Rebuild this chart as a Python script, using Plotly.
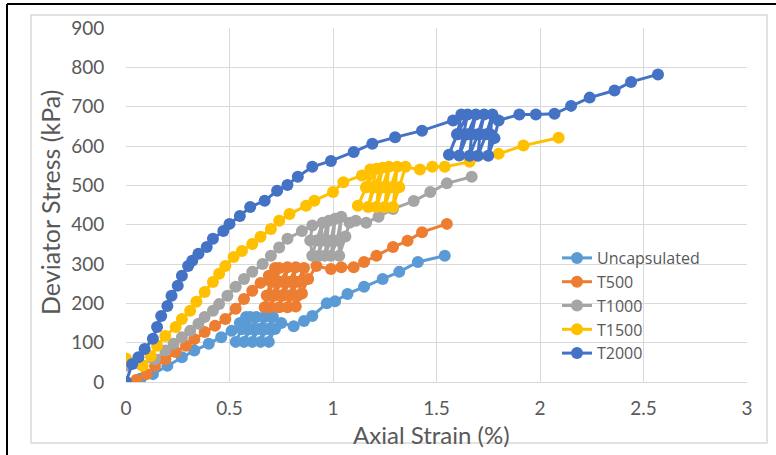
import plotly.graph_objects as go

# ---- data ----
series_names = ["Uncapsulated", "T500", "T1000", "T1500", "T2000"]
series_colors = ["#5B9BD5", "#ED7D31", "#A5A5A5", "#FFC000", "#4472C4"]

unc_x = [0, 0.07, 0.13, 0.20, 0.27, 0.33, 0.40, 0.46, 0.51, 0.55, 0.58, 0.56, 0.53, 0.56, 0.60, 0.59, 0.57,
         0.60, 0.63, 0.62, 0.61, 0.64, 0.67, 0.66, 0.65, 0.68, 0.71, 0.70, 0.69, 0.72, 0.75, 0.81, 0.86,
         0.90, 0.97, 1.01, 1.07, 1.15, 1.24, 1.32, 1.41, 1.54]
unc_y = [0, 8, 20, 41, 63, 80, 97, 114, 130, 150, 165, 135, 102, 135, 165, 135, 102,
         135, 165, 135, 102, 135, 165, 135, 102, 135, 165, 135, 102, 135, 150, 142, 155,
         168, 200, 205, 224, 242, 262, 280, 305, 321]

t500_x = [0, 0.05, 0.10, 0.14, 0.19, 0.24, 0.29, 0.33, 0.38, 0.43, 0.48, 0.53, 0.57, 0.61, 0.65, 0.69,
          0.72, 0.70, 0.68, 0.67, 0.69, 0.71, 0.74, 0.73, 0.71, 0.70, 0.72, 0.75, 0.78, 0.77, 0.75, 0.74,
          0.76, 0.79, 0.82, 0.81, 0.79, 0.78, 0.80, 0.83, 0.86, 0.85, 0.83, 0.82, 0.85, 0.88, 0.92,
          0.99, 1.04, 1.10, 1.15, 1.21, 1.29, 1.36, 1.43, 1.55]
t500_y = [0, 5, 20, 41, 58, 76, 92, 109, 127, 143, 160, 186, 211, 232, 252, 270,
          290, 255, 220, 190, 220, 255, 290, 255, 220, 190, 220, 255, 292, 255, 220, 190,
          220, 255, 292, 255, 220, 190, 220, 255, 290, 255, 220, 192, 225, 262, 295,
          287, 292, 292, 305, 321, 343, 359, 381, 402]

t1000_x = [0, 0.07, 0.14, 0.19, 0.23, 0.27, 0.31, 0.35, 0.38, 0.42, 0.45, 0.49, 0.53, 0.57, 0.61, 0.66,
           0.70, 0.74, 0.78, 0.85, 0.90, 0.89, 0.90, 0.92, 0.95, 0.94, 0.93, 0.95, 0.98, 0.97, 0.96,
           0.99, 1.01, 1.00, 0.99, 1.02, 1.04, 1.03, 1.03, 1.06, 1.08, 1.11, 1.16, 1.22, 1.29, 1.39,
           1.47, 1.55, 1.67]
t1000_y = [41, 45, 58, 80, 97, 114, 130, 148, 165, 181, 198, 219, 242, 262, 280, 300,
           321, 342, 364, 384, 398, 360, 321, 360, 405, 360, 321, 360, 410, 360, 321,
           360, 415, 360, 321, 360, 420, 360, 321, 370, 405, 410, 405, 420, 440, 460,
           483, 505, 522]

t1500_x = [0, 0.08, 0.12, 0.15, 0.19, 0.24, 0.27, 0.31, 0.34, 0.38, 0.42, 0.45, 0.48, 0.52, 0.56, 0.61,
           0.65, 0.70, 0.74, 0.79, 0.87, 0.91, 1.00, 1.05, 1.14, 1.18, 1.16, 1.12, 1.16, 1.21, 1.19,
           1.17, 1.20, 1.24, 1.22, 1.21, 1.24, 1.27, 1.26, 1.25, 1.28, 1.31, 1.30, 1.29, 1.32, 1.35,
           1.42, 1.48, 1.54, 1.66, 1.80, 1.92, 2.09]
t1500_y = [60, 41, 66, 92, 117, 140, 160, 181, 204, 229, 254, 275, 295, 318, 333, 351,
           369, 389, 410, 427, 448, 461, 483, 508, 525, 540, 495, 448, 495, 542, 495,
           445, 495, 545, 495, 445, 495, 547, 495, 445, 495, 547, 495, 445, 495, 547,
           540, 547, 547, 560, 580, 601, 621]

t2000_x = [0, 0.03, 0.06, 0.09, 0.13, 0.15, 0.17, 0.20, 0.22, 0.25, 0.27, 0.30, 0.32, 0.35, 0.39, 0.42,
           0.47, 0.50, 0.55, 0.60, 0.67, 0.73, 0.78, 0.83, 0.90, 0.99, 1.10, 1.19, 1.30, 1.43, 1.58,
           1.62, 1.60, 1.56, 1.60, 1.65, 1.63, 1.61, 1.65, 1.69, 1.67, 1.66, 1.70, 1.73, 1.71, 1.70,
           1.74, 1.77, 1.76, 1.75, 1.78, 1.80, 1.90, 1.98, 2.07, 2.15, 2.24, 2.36, 2.44, 2.57]
t2000_y = [0, 46, 63, 84, 110, 140, 168, 193, 219, 245, 270, 295, 308, 326, 343, 364,
           384, 402, 422, 445, 461, 486, 501, 522, 547, 562, 585, 606, 622, 639, 665,
           680, 630, 578, 630, 680, 630, 576, 630, 680, 630, 575, 630, 680, 630, 575,
           630, 680, 630, 575, 620, 665, 680, 680, 682, 702, 723, 741, 763, 782]

xs = [unc_x, t500_x, t1000_x, t1500_x, t2000_x]
ys = [unc_y, t500_y, t1000_y, t1500_y, t2000_y]

x_ticks = [0, 0.5, 1, 1.5, 2, 2.5, 3]
x_tick_labels = ["0", "0.5", "1", "1.5", "2", "2.5", "3"]
y_ticks = [0, 100, 200, 300, 400, 500, 600, 700, 800, 900]
x_title = "Axial Strain (%)"
y_title = "Deviator Stress (kPa)"

# ---- layout geometry (pixels) ----
W, H = 776, 455
L, R, T, B = 126, 747, 28, 382


def px(x):
    return (x - L) / (R - L)


def py(y):
    return (B - y) / (B - T)


FONT = "Lato, 'Open Sans', sans-serif"

fig = go.Figure()
for name, color, x, y in zip(series_names, series_colors, xs, ys):
    fig.add_trace(go.Scatter(
        x=x, y=y, name=name, mode="lines+markers",
        line=dict(color=color, width=3),
        marker=dict(color=color, size=12, symbol="circle"),
    ))

fig.update_layout(
    width=W, height=H,
    margin=dict(l=L, r=W - R, t=T, b=H - B, pad=0),
    paper_bgcolor="white", plot_bgcolor="white",
    font=dict(family=FONT, color="#595959"),
    showlegend=True,
    legend=dict(
        x=px(557), y=py(241), xanchor="left", yanchor="top",
        bgcolor="rgba(0,0,0,0)", font=dict(size=16, color="#595959", family="'Open Sans', sans-serif"),
        tracegroupgap=0, itemwidth=30,
    ),
    xaxis=dict(
        range=[0, 3], tickvals=x_ticks, ticktext=x_tick_labels,
        showgrid=True, gridcolor="#D9D9D9", gridwidth=1,
        zeroline=False, showline=True, linecolor="#D9D9D9", linewidth=1,
        ticks="outside", ticklen=9, tickcolor="rgba(0,0,0,0)",
        tickfont=dict(size=19, color="#595959", family=FONT),
    ),
    yaxis=dict(
        range=[0, 900], tickvals=y_ticks,
        showgrid=True, gridcolor="#D9D9D9", gridwidth=1,
        zeroline=False, showline=False,
        ticks="outside", ticklen=17, tickcolor="rgba(0,0,0,0)",
        tickfont=dict(size=19, color="#595959", family=FONT),
    ),
    annotations=[
        dict(text=x_title, xref="paper", yref="paper", x=px(431), y=py(434),
             xanchor="center", yanchor="middle", showarrow=False,
             font=dict(size=24, color="#595959", family=FONT)),
        dict(text=y_title, xref="paper", yref="paper", x=px(50), y=py(203),
             xanchor="center", yanchor="middle", showarrow=False, textangle=-90,
             font=dict(size=25, color="#595959", family=FONT)),
    ],
    shapes=[
        dict(type="rect", xref="paper", yref="paper",
             x0=px(31), x1=px(767), y0=py(443), y1=py(15),
             line=dict(color="#D9D9D9", width=1.5), fillcolor="rgba(0,0,0,0)", layer="below"),
        dict(type="line", xref="paper", yref="paper",
             x0=px(7), x1=px(7), y0=py(456), y1=py(4),
             line=dict(color="black", width=2)),
        dict(type="line", xref="paper", yref="paper",
             x0=px(7), x1=px(777), y0=py(4), y1=py(4),
             line=dict(color="black", width=2)),
    ],
)

fig.write_html(
    "out.html",
    config={"displayModeBar": False},
    post_script="document.body.style.margin='0px';document.body.style.overflow='hidden';",
)
